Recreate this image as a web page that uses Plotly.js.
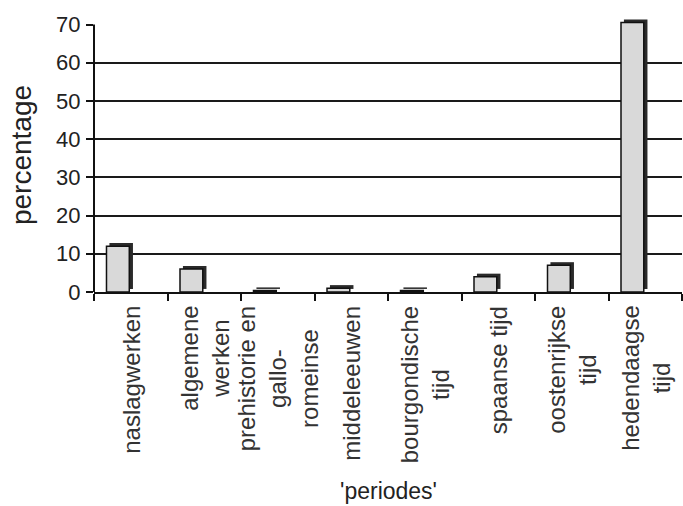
<!DOCTYPE html>
<html>
<head>
<meta charset="utf-8">
<script src="https://cdn.plot.ly/plotly-3.0.1.min.js"></script>
<style>html,body{margin:0;padding:0;background:#fff;}#chart{width:683px;height:506px;}</style>
</head>
<body>
<div id="chart"></div>
<script>
// Data
const categories = [
  "naslagwerken",
  "algemene<br>werken",
  "prehistorie en<br>gallo-<br>romeinse",
  "middeleeuwen",
  "bourgondische<br>tijd",
  "spaanse tijd",
  "oostenrijkse<br>tijd",
  "hedendaagse<br>tijd"
];
const percentages = [12, 6, 0.4, 1, 0.4, 4, 7, 70.5];
const yTicks = [0, 10, 20, 30, 40, 50, 60, 70];
const gridValues = [10, 20, 30, 40, 50, 60];

// 3D-look depth (styling constant)
const depthY = 0.8;

const backFace = {
  type: 'bar',
  x: categories,
  y: percentages,
  base: percentages.map(() => depthY),
  offset: -0.29,
  width: 0.32,
  marker: {color: '#2a2a2a', line: {width: 0}},
  hoverinfo: 'skip',
  showlegend: false
};
const frontFace = {
  type: 'bar',
  x: categories,
  y: percentages,
  offset: -0.33,
  width: 0.31,
  marker: {color: '#d9d9d9', line: {color: '#111', width: 1.5}},
  showlegend: false
};
const gridTrace = {
  type: 'scatter', x: categories, y: percentages, yaxis: 'y2',
  mode: 'markers', marker: {opacity: 0}, hoverinfo: 'skip', showlegend: false
};

const yMax = 71.7;

// category labels as rotated, centre-aligned annotations
const labelAnnotations = categories.map(c => ({
  x: c, xref: 'x', y: 0, yref: 'paper',
  text: c, textangle: -90, align: 'center',
  xanchor: 'center', yanchor: 'top', yshift: -12,
  showarrow: false,
  font: {size: 24, color: '#333', family: 'Liberation Sans, Arial, sans-serif'}
}));
const titleAnnotation = {
  x: 0.5, xref: 'paper', y: 0, yref: 'paper',
  text: "'periodes'", xanchor: 'center', yanchor: 'top', yshift: -184,
  showarrow: false,
  font: {size: 23, color: '#222', family: 'Liberation Sans, Arial, sans-serif'}
};

const layout = {
  width: 683, height: 506,
  margin: {l: 94, r: 1, t: 18, b: 214},
  paper_bgcolor: '#ffffff', plot_bgcolor: '#ffffff',
  font: {family: 'Liberation Sans, Arial, sans-serif', color: '#222'},
  barmode: 'overlay',
  xaxis: {
    type: 'category',
    tickson: 'boundaries',
    ticks: 'outside', ticklen: 7, tickwidth: 2, tickcolor: '#111',
    showline: true, linecolor: '#111', linewidth: 2,
    showgrid: false, showticklabels: false,
    automargin: false
  },
  yaxis: {
    range: [0, yMax],
    tickvals: yTicks,
    ticks: 'outside', ticklen: 7, tickwidth: 2, tickcolor: '#111',
    showline: false,
    showgrid: false, zeroline: false,
    tickfont: {size: 22, color: '#222'},
    ticklabelstandoff: 1,
    automargin: false,
    title: {text: 'percentage', font: {size: 28, color: '#222'}, standoff: 16}
  },
  yaxis2: {
    overlaying: 'y', range: [0, yMax], tickvals: gridValues,
    showgrid: true, gridcolor: '#1a1a1a', gridwidth: 2,
    showticklabels: false, ticks: '', zeroline: false, showline: false
  },
  shapes: [{
    type: 'line', xref: 'paper', yref: 'y',
    x0: 0, x1: 0, y0: yTicks[0], y1: yTicks[yTicks.length - 1],
    line: {color: '#111', width: 2}
  }],
  annotations: labelAnnotations.concat([titleAnnotation])
};

Plotly.newPlot('chart', [gridTrace, backFace, frontFace], layout, {displayModeBar: false, staticPlot: true});
</script>
</body>
</html>
